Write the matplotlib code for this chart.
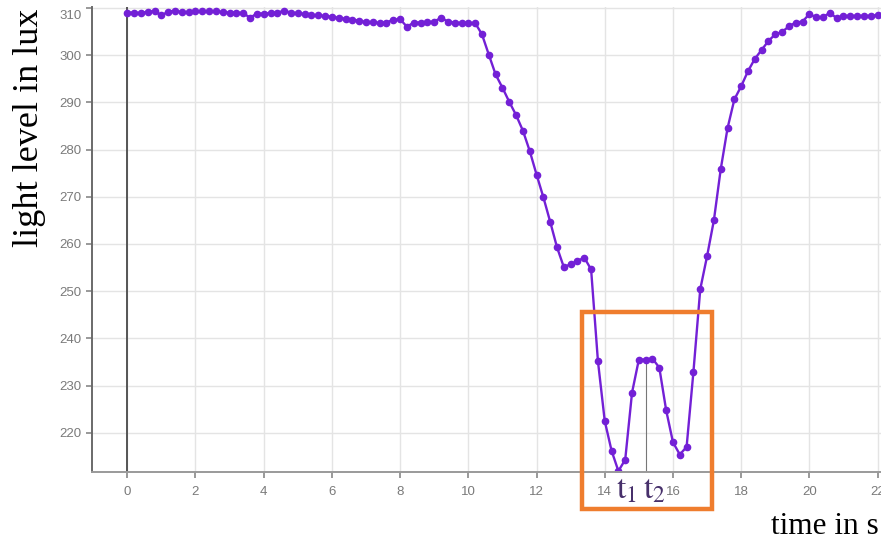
import numpy as np
import matplotlib.pyplot as plt
import matplotlib.transforms as mtransforms
from matplotlib.patches import Rectangle

# sample times (s), 0.2 s apart
time_s = [0.0, 0.2, 0.4, 0.6, 0.8, 1.0, 1.2, 1.4, 1.6, 1.8,
          2.0, 2.2, 2.4, 2.6, 2.8, 3.0, 3.2, 3.4, 3.6, 3.8,
          4.0, 4.2, 4.4, 4.6, 4.8, 5.0, 5.2, 5.4, 5.6, 5.8,
          6.0, 6.2, 6.4, 6.6, 6.8, 7.0, 7.2, 7.4, 7.6, 7.8,
          8.0, 8.2, 8.4, 8.6, 8.8, 9.0, 9.2, 9.4, 9.6, 9.8,
          10.0, 10.2, 10.4, 10.6, 10.8, 11.0, 11.2, 11.4, 11.6, 11.8,
          12.0, 12.2, 12.4, 12.6, 12.8, 13.0, 13.2, 13.4, 13.6, 13.8,
          14.0, 14.2, 14.4, 14.6, 14.8, 15.0, 15.2, 15.4, 15.6, 15.8,
          16.0, 16.2, 16.4, 16.6, 16.8, 17.0, 17.2, 17.4, 17.6, 17.8,
          18.0, 18.2, 18.4, 18.6, 18.8, 19.0, 19.2, 19.4, 19.6, 19.8,
          20.0, 20.2, 20.4, 20.6, 20.8, 21.0, 21.2, 21.4, 21.6, 21.8,
          22.0]

# light level (lux)
lux = [309.0, 309.0, 308.9, 309.2, 309.3, 308.4, 309.2, 309.4, 309.1, 309.1,
       309.3, 309.3, 309.3, 309.3, 309.1, 309.0, 309.0, 308.9, 307.9, 308.8,
       308.8, 308.9, 309.0, 309.4, 309.0, 308.9, 308.7, 308.5, 308.4, 308.3,
       308.1, 307.9, 307.7, 307.5, 307.3, 307.0, 307.0, 306.8, 306.9, 307.5,
       307.6, 306.0, 306.9, 306.9, 307.0, 307.1, 307.9, 307.1, 306.9, 306.8,
       306.8, 306.8, 304.4, 300.1, 295.9, 293.1, 290.1, 287.3, 284.0, 279.7,
       274.7, 269.9, 264.7, 259.3, 255.1, 255.7, 256.4, 257.1, 254.6, 235.2,
       222.5, 216.2, 211.9, 214.3, 228.5, 235.5, 235.5, 235.7, 233.8, 224.8,
       218.0, 215.4, 217.0, 232.9, 250.4, 257.4, 265.0, 275.8, 284.5, 290.6,
       293.4, 296.6, 299.2, 301.1, 303.0, 304.4, 304.9, 306.1, 306.9, 307.1,
       308.7, 308.0, 308.0, 309.0, 307.8, 308.3, 308.3, 308.3, 308.3, 308.3,
       308.5]

x_ticks = [0, 2, 4, 6, 8, 10, 12, 14, 16, 18, 20, 22]
y_ticks = [220, 230, 240, 250, 260, 270, 280, 290, 300, 310]

plt.rcParams['mathtext.fontset'] = 'stix'

fig = plt.figure(figsize=(8.81, 5.42), dpi=100)
ax = fig.add_axes([0.1044, 0.1292, 0.8956, 0.858])

ax.plot(time_s, lux, color='#7320d6', linewidth=1.7, marker='o', markersize=4.5)

ax.set_xlim(-1.035, 22.1)
ax.set_ylim(211.7, 310.2)
ax.set_xticks(x_ticks)
ax.set_yticks(y_ticks)
ax.grid(True, color='#e4e4e4', linewidth=1.0)
ax.set_axisbelow(True)

for s in ['top', 'right']:
    ax.spines[s].set_visible(False)
ax.spines['left'].set_color('#6a6a6a')
ax.spines['left'].set_linewidth(1.4)
ax.spines['bottom'].set_color('#9a9a9a')
ax.spines['bottom'].set_linewidth(1.4)
ax.axvline(0, color='#555555', linewidth=1.4, zorder=1)

ax.tick_params(axis='both', labelsize=9.5, labelcolor='#7a7a7a', color='#888888',
               length=4, width=1.2)
ax.tick_params(axis='x', pad=6)
for lab in ax.get_xticklabels() + ax.get_yticklabels():
    lab.set_fontfamily('Liberation Sans')

# the top label sits a little lower, as in the reference
top_lab = ax.get_yticklabels()[-1]
top_lab.set_transform(top_lab.get_transform() +
                      mtransforms.ScaledTranslation(0, -7 / 100, fig.dpi_scale_trans))

# orange highlight box round the double dip
box = Rectangle((13.33, 203.8), 3.82, 41.75, fill=False, edgecolor='#ef7d2e',
                linewidth=3.2, clip_on=False, zorder=5)
ax.add_patch(box)
ax.vlines(15.2, 211.7, 235.5, color='#777777', linewidth=0.8, zorder=1)

ax.text(14.64, 208.0, r'$\mathrm{t}_1$', fontsize=24, color='#47306b',
        ha='center', va='center')
ax.text(15.45, 208.0, r'$\mathrm{t}_2$', fontsize=24, color='#47306b',
        ha='center', va='center')

fig.text(0.034, 0.765, 'light level in lux', family='Liberation Serif', fontsize=26,
         rotation=90, ha='center', va='center')
fig.text(0.998, 0.028, 'time in s', family='Liberation Serif', fontsize=22.5,
         ha='right', va='center')

fig.savefig('out.png', dpi=100)
